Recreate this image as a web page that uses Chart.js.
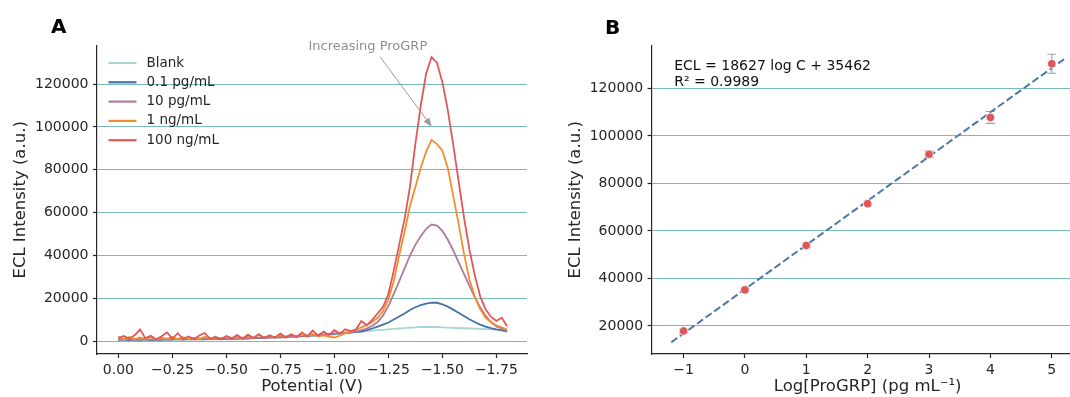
<!DOCTYPE html>
<html>
<head>
<meta charset="utf-8">
<script src="https://cdn.jsdelivr.net/npm/chart.js@4.4.1/dist/chart.umd.min.js"></script>
<style>
  body { margin: 0; width: 1070px; height: 397px; overflow: hidden; background: #fff; position: relative; font-family: "DejaVu Sans", sans-serif; }
  .wrap { position: absolute; top: 0; height: 397px; }
  .tag { position: absolute; font-weight: bold; font-size: 20px; line-height: 20px; color: #000; }
</style>
</head>
<body>
<div class="wrap" style="left:0;width:540px"><canvas id="chartA" width="540" height="397"></canvas></div>
<div class="wrap" style="left:540px;width:560px"><canvas id="chartB" width="560" height="397"></canvas></div>
<div class="tag" style="left:51px;top:16px">A</div>
<div class="tag" style="left:605px;top:17px">B</div>
<script>
// ---- panel A: ECL vs potential ----
const potential = [0, -0.025, -0.05, -0.075, -0.1, -0.125, -0.15, -0.175, -0.2, -0.225,
  -0.25, -0.275, -0.3, -0.325, -0.35, -0.375, -0.4, -0.425, -0.45, -0.475,
  -0.5, -0.525, -0.55, -0.575, -0.6, -0.625, -0.65, -0.675, -0.7, -0.725,
  -0.75, -0.775, -0.8, -0.825, -0.85, -0.875, -0.9, -0.925, -0.95, -0.975,
  -1, -1.025, -1.05, -1.075, -1.1, -1.125, -1.15, -1.175, -1.2, -1.225,
  -1.25, -1.275, -1.3, -1.325, -1.35, -1.375, -1.4, -1.425, -1.45, -1.475,
  -1.5, -1.525, -1.55, -1.575, -1.6, -1.625, -1.65, -1.675, -1.7, -1.725,
  -1.75, -1.775, -1.8];

const blank = [600, 800, 700, 900, 800, 700, 900, 800, 900, 800,
  900, 1000, 900, 1000, 1100, 1000, 1100, 1200, 1100, 1200,
  1300, 1200, 1300, 1400, 1400, 1500, 1500, 1600, 1700, 1700,
  1800, 1900, 2000, 2100, 2200, 2300, 2400, 2600, 2800, 3000,
  3200, 3500, 3800, 4000, 4300, 4500, 4800, 5000, 5200, 5400,
  5600, 5800, 6000, 6200, 6400, 6500, 6700, 6800, 6700, 6700,
  6500, 6400, 6300, 6200, 6100, 6000, 5900, 5800, 5700, 5600,
  5500, 5500, 5400];

const pg01 = [700, 900, 600, 800, 700, 900, 600, 800, 700, 900,
  800, 1000, 800, 1000, 900, 1100, 900, 1100, 1000, 1200,
  1100, 1300, 1200, 1400, 1300, 1500, 1500, 1700, 1700, 1900,
  1900, 2100, 2200, 2300, 2500, 2600, 2800, 2900, 3100, 3300,
  3500, 3700, 3900, 4100, 4400, 4600, 5200, 6000, 6900, 7800,
  8800, 10200, 11600, 13000, 14600, 15900, 16900, 17600, 18100, 18000,
  17300, 16200, 14800, 13300, 11800, 10300, 9000, 7800, 6900, 6200,
  5600, 5100, 4700];

const pg10 = [900, 1200, 800, 1100, 900, 1200, 800, 1100, 1000, 1200,
  900, 1300, 1000, 1200, 1100, 1400, 1100, 1300, 1200, 1500,
  1300, 1500, 1400, 1700, 1500, 1800, 1700, 1900, 1900, 2100,
  2100, 2300, 2400, 2500, 2700, 2800, 3000, 3100, 3300, 3500,
  3700, 3900, 4100, 4300, 4600, 5200, 6000, 7200, 9000, 12000,
  16500, 22000, 28000, 34000, 40000, 45000, 49000, 52500, 54500, 54000,
  51500, 47500, 42500, 37000, 31500, 26000, 20500, 16000, 12000, 9000,
  7000, 6000, 5000];

const ng1 = [2200, 1000, 2000, 900, 1800, 1100, 2100, 900, 1700, 1200,
  2000, 1000, 1900, 1200, 1700, 1000, 2200, 1300, 1800, 1100,
  2300, 1400, 2000, 1300, 2600, 1500, 3100, 1800, 2500, 1700,
  2900, 2000, 3200, 2200, 3000, 2500, 3300, 2400, 2800, 2200,
  1800, 2600, 3800, 4500, 5500, 6500, 7500, 9000, 11000, 14000,
  19500, 28000, 40000, 51000, 63000, 72000, 81000, 88500, 94000, 92000,
  89000, 81000, 68000, 55000, 41000, 29000, 21000, 15000, 11000, 9000,
  7500, 6500, 5500];

const ng100 = [1500, 2500, 1200, 2800, 5500, 1500, 2600, 1000, 2400, 4200,
  1300, 3800, 1100, 2300, 1000, 2700, 3900, 1200, 2200, 900,
  2500, 1400, 2900, 1200, 3100, 1600, 3400, 1500, 2800, 1800,
  3600, 1700, 3300, 2000, 4200, 2300, 5000, 2600, 4600, 3000,
  5200, 3600, 5600, 4800, 5500, 9500, 7500, 10000, 13000, 16000,
  22000, 33000, 45000, 57000, 72000, 92000, 110000, 125000, 132500, 130000,
  121000, 108000, 92000, 75000, 58000, 43000, 31000, 21000, 15000, 11500,
  9500, 11000, 7000];

const seriesLabels = ['Blank', '0.1 pg/mL', '10 pg/mL', '1 ng/mL', '100 ng/mL'];
const xTicksA = [0, -0.25, -0.5, -0.75, -1, -1.25, -1.5, -1.75];
const yTicksA = [0, 20000, 40000, 60000, 80000, 100000, 120000];

// ---- panel B: calibration ----
const logC = [-1, 0, 1, 2, 3, 4, 5];
const ecl = [17900, 35200, 53900, 71500, 92300, 107800, 130400];
const eclErr = [800, 700, 900, 600, 1400, 2500, 4000];
const fitX = [-1.2, 5.2];
const fitY = [13110, 132320];
const xTicksB = [-1, 0, 1, 2, 3, 4, 5];
const yTicksB = [20000, 40000, 60000, 80000, 100000, 120000];

Chart.defaults.font.family = '"DejaVu Sans", sans-serif';
Chart.defaults.color = '#222';

const INK = '#262626';
const GRID = '#79bab5';
const COLORS = ['#a8d5d1', '#4472a8', '#b07aa1', '#f28e2b', '#e15759'];

const fixTicks = (values) => (scale) => { scale.ticks = values.map((v) => ({ value: v })); };
const fixSize = (prop, px) => (scale) => { scale[prop] = px; };
const signed = (v, d) => (v < 0 ? '\u2212' : '') + Math.abs(v).toFixed(d);
const pts = (xs, ys) => xs.map((x, i) => ({ x, y: ys[i] }));

// legend drawn inside the axes, matplotlib style
const innerLegend = {
  id: 'innerLegend',
  afterDraw(chart) {
    const { ctx, chartArea } = chart;
    ctx.save();
    ctx.font = '13.5px "DejaVu Sans"';
    ctx.textBaseline = 'middle';
    chart.data.datasets.forEach((ds, i) => {
      const y = chartArea.top + 17.3 + i * 19.3;
      const x0 = chartArea.left + 11.5;
      ctx.strokeStyle = ds.borderColor;
      ctx.lineWidth = 2.2;
      ctx.beginPath();
      ctx.moveTo(x0, y);
      ctx.lineTo(x0 + 28, y);
      ctx.stroke();
      ctx.fillStyle = INK;
      ctx.fillText(ds.label, x0 + 38, y);
    });
    ctx.restore();
  },
};

const NOTE = { text: 'Increasing ProGRP', at: [-1.155, 137700], from: [-1.212, 132700], to: [-1.451, 100100] };
const arrowNote = {
  id: 'arrowNote',
  afterDatasetsDraw(chart) {
    const { ctx, scales: { x, y } } = chart;
    const tx = x.getPixelForValue(NOTE.at[0]), ty = y.getPixelForValue(NOTE.at[1]);
    const x1 = x.getPixelForValue(NOTE.from[0]), y1 = y.getPixelForValue(NOTE.from[1]);
    const x2 = x.getPixelForValue(NOTE.to[0]), y2 = y.getPixelForValue(NOTE.to[1]);
    ctx.save();
    ctx.font = '13px "DejaVu Sans"';
    ctx.textAlign = 'center';
    ctx.textBaseline = 'middle';
    ctx.fillStyle = '#8f8f8f';
    ctx.fillText(NOTE.text, tx, ty);
    const ang = Math.atan2(y2 - y1, x2 - x1);
    const hl = 9, hw = 3.5;
    const bx = x2 - hl * Math.cos(ang), by = y2 - hl * Math.sin(ang);
    ctx.strokeStyle = '#9a9a9a';
    ctx.fillStyle = '#9a9a9a';
    ctx.lineWidth = 1;
    ctx.beginPath();
    ctx.moveTo(x1, y1);
    ctx.lineTo(bx, by);
    ctx.stroke();
    ctx.beginPath();
    ctx.moveTo(x2, y2);
    ctx.lineTo(bx + hw * Math.sin(ang), by - hw * Math.cos(ang));
    ctx.lineTo(bx - hw * Math.sin(ang), by + hw * Math.cos(ang));
    ctx.closePath();
    ctx.fill();
    ctx.restore();
  },
};

const errorBars = {
  id: 'errorBars',
  beforeDatasetsDraw(chart) {
    const { ctx, scales: { x, y } } = chart;
    ctx.save();
    ctx.strokeStyle = '#a3a3a3';
    ctx.lineWidth = 1.2;
    logC.forEach((c, i) => {
      const px = x.getPixelForValue(c);
      const lo = y.getPixelForValue(ecl[i] - eclErr[i]);
      const hi = y.getPixelForValue(ecl[i] + eclErr[i]);
      ctx.beginPath();
      ctx.moveTo(px, lo); ctx.lineTo(px, hi);
      ctx.moveTo(px - 4.5, lo); ctx.lineTo(px + 4.5, lo);
      ctx.moveTo(px - 4.5, hi); ctx.lineTo(px + 4.5, hi);
      ctx.stroke();
    });
    ctx.restore();
  },
};

const equation = {
  id: 'equation',
  afterDraw(chart) {
    const { ctx, chartArea } = chart;
    ctx.save();
    ctx.font = '14px "DejaVu Sans"';
    ctx.textBaseline = 'middle';
    ctx.fillStyle = '#111';
    ctx.fillText('ECL = 18627 log C + 35462', chartArea.left + 22.6, chartArea.top + 21);
    ctx.fillText('R\u00b2 = 0.9989', chartArea.left + 22.6, chartArea.top + 36.4);
    ctx.restore();
  },
};

function xAxis(ticks, min, max, reverse, fmtDigits, title) {
  return {
    type: 'linear', min, max, reverse,
    afterBuildTicks: fixTicks(ticks),
    afterFit: fixSize('height', 43),
    ticks: { callback: (v) => signed(v, fmtDigits), font: { size: 14 }, color: INK, padding: 4, maxRotation: 0, autoSkip: false },
    grid: { drawOnChartArea: false, tickLength: 4, tickColor: INK, tickWidth: 1.2 },
    border: { color: INK, width: 1.2 },
    title: { display: true, text: title, font: { size: 16.5 }, color: INK, padding: 0 },
  };
}

function yAxis(ticks, min, max, width, titlePad) {
  return {
    type: 'linear', min, max,
    afterBuildTicks: fixTicks(ticks),
    afterFit: fixSize('width', width),
    ticks: { callback: (v) => String(v), font: { size: 14 }, color: INK, padding: 4.5, autoSkip: false },
    grid: { color: GRID, lineWidth: 1, tickLength: 4, tickColor: INK, tickWidth: 1.2 },
    border: { color: INK, width: 1.2 },
    title: { display: true, text: 'ECL Intensity (a.u.)', font: { size: 16.5 }, color: INK, padding: { top: titlePad, bottom: 0 } },
  };
}

const seriesA = [blank, pg01, pg10, ng1, ng100];

new Chart(document.getElementById('chartA'), {
  type: 'line',
  data: {
    datasets: seriesA.map((vals, i) => ({
      label: seriesLabels[i],
      data: pts(potential, vals),
      borderColor: COLORS[i],
      borderWidth: 1.8,
      pointRadius: 0,
      tension: 0,
      order: seriesA.length - i,
    })),
  },
  options: {
    responsive: false,
    animation: false,
    devicePixelRatio: 1,
    events: [],
    layout: { padding: { top: 45.7, right: 13, left: 0, bottom: 0 } },
    plugins: { legend: { display: false }, tooltip: { enabled: false } },
    scales: {
      x: xAxis(xTicksA, -1.892, 0.099, true, 2, 'Potential (V)'),
      y: yAxis(yTicksA, -5900, 137900, 97, 10.6),
    },
  },
  plugins: [innerLegend, arrowNote],
});

new Chart(document.getElementById('chartB'), {
  type: 'scatter',
  data: {
    datasets: [
      {
        label: 'ECL',
        data: pts(logC, ecl),
        backgroundColor: '#e15759',
        borderColor: '#ffffff',
        borderWidth: 0.8,
        pointRadius: 4.3,
        order: 0,
      },
      {
        label: 'fit',
        data: pts(fitX, fitY),
        showLine: true,
        borderColor: '#4a78ab',
        borderWidth: 2,
        borderDash: [7.4, 3.2],
        pointRadius: 0,
        order: 1,
      },
    ],
  },
  options: {
    responsive: false,
    animation: false,
    devicePixelRatio: 1,
    events: [],
    layout: { padding: { top: 45.7, right: 16.3, left: 0, bottom: 0 } },
    plugins: { legend: { display: false }, tooltip: { enabled: false } },
    scales: {
      x: xAxis(xTicksB, -1.52, 5.52, false, 0, 'Log[ProGRP] (pg mL\u207b\u00b9)'),
      y: yAxis(yTicksB, 8200, 138000, 111.6, 25.6),
    },
  },
  plugins: [errorBars, equation],
});
</script>
</body>
</html>
